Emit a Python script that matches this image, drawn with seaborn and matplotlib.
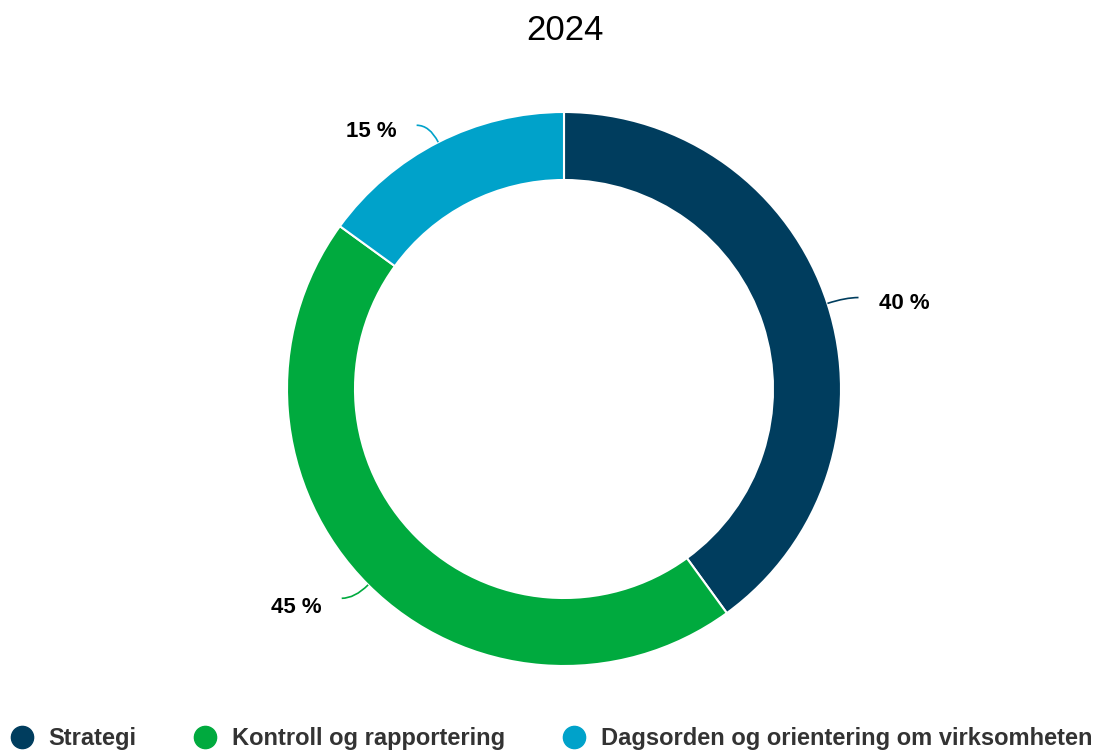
import numpy as np
import matplotlib
matplotlib.use("Agg")
import matplotlib.pyplot as plt
import seaborn as sns
from matplotlib.path import Path
from matplotlib.patches import PathPatch
from matplotlib.lines import Line2D

# ---- data ----
categories = ["Strategi", "Kontroll og rapportering", "Dagsorden og orientering om virksomheten"]
values = [40, 45, 15]
colors = ["#003d5e", "#00aa3e", "#00a2ca"]
title = "2024"

sns.set_theme(style="white")
plt.rcParams["font.family"] = ["Liberation Sans", "DejaVu Sans"]

W, H = 1102, 754
fig = plt.figure(figsize=(W / 100, H / 100), dpi=100)
ax = fig.add_axes([0, 0, 1, 1])

cx, cy, R, ring = 564, H - 389, 277, 68
wedges, _ = ax.pie(values, colors=colors, startangle=90, counterclock=False,
                   radius=R, center=(cx, cy),
                   wedgeprops=dict(width=ring, edgecolor="white", linewidth=1.5))
ax.set_xlim(0, W)
ax.set_ylim(0, H)
ax.set_aspect("equal")
ax.axis("off")

for w, v, c in zip(wedges, values, colors):
    th = np.deg2rad((w.theta1 + w.theta2) / 2)
    ux, uy = np.cos(th), np.sin(th)
    s = 1 if ux >= 0 else -1
    p0 = (cx + R * ux, cy + R * uy)
    p1 = (cx + (R + 19) * ux, cy + (R + 19) * uy)
    p2 = (p1[0] + s * 13, p1[1])
    path = Path([p0, p1, p2], [Path.MOVETO, Path.CURVE3, Path.CURVE3])
    ax.add_patch(PathPatch(path, fill=False, edgecolor=c, lw=1.2))
    dy = -6 + 5 * min(uy, 0)
    ax.text(p2[0] + s * 20, p2[1] + dy, f"{v} %", ha="left" if s > 0 else "right",
            va="center", fontsize=16, fontweight="bold", color="black")

fig.text(564.5 / W, 1 - 30 / H, title, ha="center", va="center", fontsize=25, color="black")

handles = [Line2D([0], [0], marker="o", linestyle="none", markersize=16,
                  markerfacecolor=c, markeredgecolor=c) for c in colors]
leg = fig.legend(handles, categories, loc="lower left", bbox_to_anchor=(10 / W, 4 / H),
                 ncol=3, frameon=False, handlelength=1.0, handletextpad=0.64,
                 columnspacing=2.4, borderpad=0, borderaxespad=0,
                 prop=dict(size=17, weight="bold"))
for t in leg.get_texts():
    t.set_color("#333333")

fig.savefig("out.png", dpi=100, facecolor="white")
